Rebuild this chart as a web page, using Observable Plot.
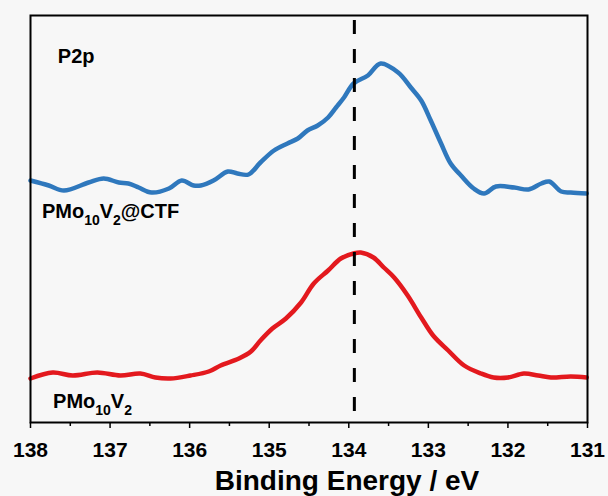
<!DOCTYPE html>
<html>
<head>
<meta charset="utf-8">
<script src="https://cdn.jsdelivr.net/npm/d3@7"></script>
<script src="https://cdn.jsdelivr.net/npm/@observablehq/plot@0.6"></script>
<style>
  html, body { margin: 0; padding: 0; background: #ffffff; }
  #chart svg { display: block; }
</style>
</head>
<body>
<div id="chart"></div>
<script>
// ---- Data ----
const blueName = "PMo10V2@CTF";
const blueEnergy = [138.00, 137.77, 137.58, 137.27, 137.08, 136.89, 136.77, 136.64, 136.48, 136.26, 136.10, 135.95, 135.86, 135.70, 135.52, 135.40, 135.26, 135.11, 134.94, 134.77, 134.64, 134.52, 134.39, 134.26, 134.16, 134.06, 133.94, 133.76, 133.60, 133.38, 133.22, 133.09, 132.97, 132.84, 132.72, 132.59, 132.43, 132.30, 132.15, 131.92, 131.74, 131.58, 131.48, 131.33, 131.21, 131.01];
const blueIntensity = [242, 237, 232, 240, 244, 240, 239, 235, 230, 234, 242, 237, 237, 242, 251, 249, 248, 260, 272, 279, 284, 292, 297, 305, 315, 325, 339, 347, 359, 350, 335, 322, 302, 279, 259, 247, 234, 229, 236, 235, 233, 239, 241, 231, 230, 229];

const redName = "PMo10V2";
const redEnergy = [138.00, 137.72, 137.47, 137.16, 136.87, 136.62, 136.43, 136.24, 135.99, 135.76, 135.61, 135.38, 135.23, 135.11, 134.96, 134.79, 134.60, 134.44, 134.26, 134.10, 133.94, 133.85, 133.69, 133.56, 133.43, 133.26, 133.09, 132.94, 132.75, 132.55, 132.34, 132.18, 132.00, 131.80, 131.62, 131.46, 131.21, 131.01];
const redIntensity = [44, 50, 47, 50, 47, 49, 45, 44, 47, 51, 57, 64, 71, 82, 94, 104, 120, 139, 152, 164, 169, 170, 165, 155, 145, 127, 105, 87, 72, 57, 49, 45, 45, 49, 47, 45, 46, 45];

const peakEnergy = [133.93];
const majorTicks = [138, 137, 136, 135, 134, 133, 132, 131];
const minorTicks = [137.5, 136.5, 135.5, 134.5, 133.5, 132.5, 131.5];
const xTitle = "Binding Energy / eV";
const panelTitle = "P2p";

const blue = blueEnergy.map((e, i) => ({energy: e, intensity: blueIntensity[i]}));
const red = redEnergy.map((e, i) => ({energy: e, intensity: redIntensity[i]}));

const FONT = "'Liberation Sans', Arial, Helvetica, sans-serif";

const svg = Plot.plot({
  width: 608,
  height: 496,
  marginTop: 15,
  marginLeft: 30,
  marginRight: 21,
  marginBottom: 74,
  style: {fontFamily: FONT, background: "#f7f7f7", color: "black"},
  x: {domain: [138, 131]},
  y: {domain: [0, 407], axis: null},
  marks: [
    Plot.line(blue, {x: "energy", y: "intensity", stroke: "#2f78bd", strokeWidth: 4.5, curve: "catmull-rom"}),
    Plot.line(red, {x: "energy", y: "intensity", stroke: "#e3191e", strokeWidth: 4.5, curve: "catmull-rom"}),
    Plot.ruleX(peakEnergy, {y1: 402, y2: 7, stroke: "black", strokeWidth: 3, strokeDasharray: "14,15"}),
    Plot.axisX({ticks: minorTicks, tickSize: 4, tickFormat: () => "", label: null, strokeWidth: 1.5}),
    Plot.axisX({ticks: majorTicks, tickSize: 6, tickPadding: 14, tickFormat: d => String(d), label: null,
      fontSize: 21, fontWeight: "bold", strokeWidth: 1.5}),
    Plot.frame({stroke: "black", strokeWidth: 2})
  ]
});

document.getElementById("chart").appendChild(svg);

const xs = svg.scale("x");
const ys = svg.scale("y");
const root = d3.select(svg);

function subLabel(parts, energy, intensity, size, subSize) {
  const t = root.append("text")
    .attr("x", xs.apply(energy))
    .attr("y", ys.apply(intensity))
    .attr("text-anchor", "start")
    .attr("font-family", FONT)
    .attr("font-weight", "bold")
    .attr("font-size", size)
    .attr("fill", "black");
  let shifted = false;
  for (const [txt, isSub] of parts) {
    const sp = t.append("tspan").text(txt);
    if (isSub && !shifted) { sp.attr("dy", 7).attr("font-size", subSize); shifted = true; }
    else if (isSub) { sp.attr("font-size", subSize); }
    else if (!isSub && shifted) { sp.attr("dy", -7); shifted = false; }
  }
}

subLabel([[panelTitle, false]], 137.65, 359, 20, 14);
subLabel([["PMo", false], ["10", true], ["V", false], ["2", true], ["@CTF", false]], 137.85, 204, 20, 14);
subLabel([["PMo", false], ["10", true], ["V", false], ["2", true]], 137.71, 14, 20, 14);

root.append("text")
  .attr("x", 347)
  .attr("y", 490)
  .attr("text-anchor", "middle")
  .attr("font-family", FONT)
  .attr("font-weight", "bold")
  .attr("font-size", 28)
  .attr("fill", "black")
  .text(xTitle);
</script>
</body>
</html>
